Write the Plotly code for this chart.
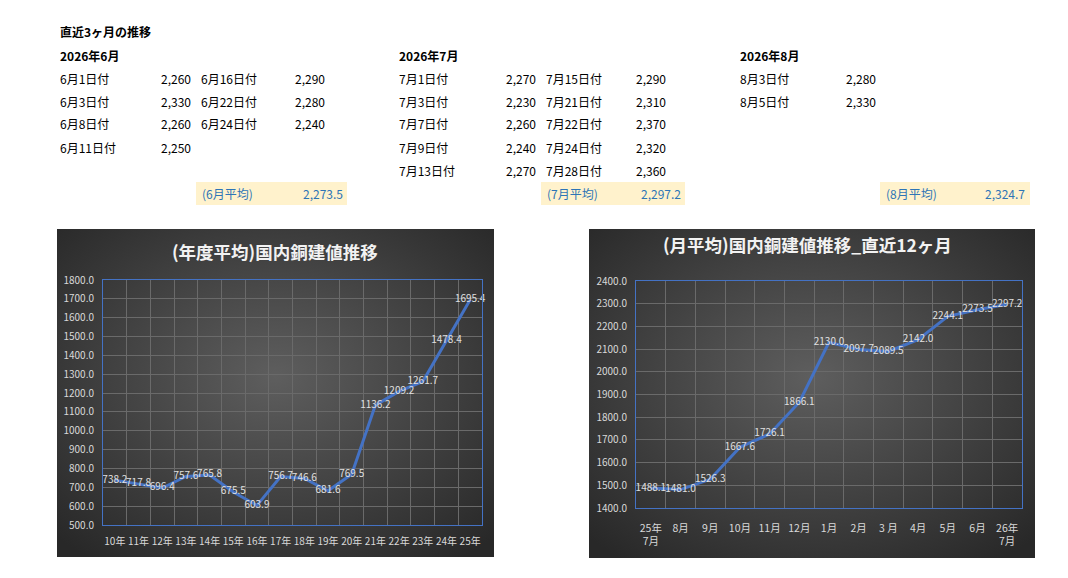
import base64
import plotly.graph_objects as go

W, H = 1068, 578
FONT = "Noto Sans CJK JP"

# ---- table data (直近3ヶ月の推移) ----
jun_dates = ["6月1日付", "6月3日付", "6月8日付", "6月11日付", "6月16日付", "6月22日付", "6月24日付"]
jun_vals = [2260, 2330, 2260, 2250, 2290, 2280, 2240]
jul_dates = ["7月1日付", "7月3日付", "7月7日付", "7月9日付", "7月13日付",
             "7月15日付", "7月21日付", "7月22日付", "7月24日付", "7月28日付"]
jul_vals = [2270, 2230, 2260, 2240, 2270, 2290, 2310, 2370, 2320, 2360]
aug_dates = ["8月3日付", "8月5日付"]
aug_vals = [2280, 2330]
month_titles = ["2026年6月", "2026年7月", "2026年8月"]
avg_labels = ["(6月平均)", "(7月平均)", "(8月平均)"]
avg_vals = [2273.5, 2297.2, 2324.7]
col_split = [4, 5, 2]

# ---- chart data ----
year_labels = ["10年", "11年", "12年", "13年", "14年", "15年", "16年", "17年",
               "18年", "19年", "20年", "21年", "22年", "23年", "24年", "25年"]
year_avg = [738.2, 717.8, 696.4, 757.6, 765.8, 675.5, 603.9, 756.7,
            746.6, 681.6, 769.5, 1136.2, 1209.2, 1261.7, 1478.4, 1695.4]
month_labels = ["25年<br>7月", "8月", "9月", "10月", "11月", "12月", "1月",
                "2月", "3 月", "4月", "5月", "6月", "26年<br>7月"]
month_avg = [1488.1, 1481.0, 1526.3, 1667.6, 1726.1, 1866.1, 2130.0,
             2097.7, 2089.5, 2142.0, 2244.1, 2273.5, 2297.2]


def px(x):
    return x / W


def py(y):
    return 1 - y / H


def note(x, y, text, anchor="left", size=12, color="#000"):
    return dict(x=px(x), y=py(y), xref="paper", yref="paper", text=text,
                xanchor=anchor, yanchor="middle", showarrow=False,
                font=dict(size=size, color=color))


fig = go.Figure()
annos = []
shapes = []

# title of the table block
annos.append(note(58, 32, "<b>直近3ヶ月の推移</b>"))

blocks = [
    (jun_dates, jun_vals, 58, 193, 199, 327, 196, 347, 345),
    (jul_dates, jul_vals, 397, 538, 544, 668, 541, 685, 683),
    (aug_dates, aug_vals, 738, 878, None, None, 880, 1030, 1027),
]
row_y = [78, 101, 124, 147, 170]
for i, (dates, vals, dx1, vx1, dx2, vx2, bx0, bx1, avx) in enumerate(blocks):
    annos.append(note(dx1, 55, "<b>" + month_titles[i] + "</b>"))
    for j, (d, v) in enumerate(zip(dates, vals)):
        if j < col_split[i]:
            r, dx, vx = j, dx1, vx1
        else:
            r, dx, vx = j - col_split[i], dx2, vx2
        annos.append(note(dx, row_y[r], d))
        annos.append(note(vx, row_y[r], f"{v:,}", anchor="right"))
    shapes.append(dict(type="rect", xref="paper", yref="paper", x0=px(bx0), x1=px(bx1),
                       y0=py(205), y1=py(182), fillcolor="#FFF2CC", line=dict(width=0),
                       layer="below"))
    annos.append(note(bx0 + 4, 193, avg_labels[i], color="#2E75B6"))
    annos.append(note(avx, 193, f"{avg_vals[i]:,.1f}", anchor="right", color="#2E75B6"))

# dark radial gradient chart backgrounds
svg = ('<svg xmlns="http://www.w3.org/2000/svg" width="440" height="330" preserveAspectRatio="none">'
       '<defs><radialGradient id="g" cx="50%" cy="45%" r="70%">'
       '<stop offset="0" stop-color="#5e5e5e"/><stop offset="1" stop-color="#282828"/>'
       '</radialGradient></defs><rect width="440" height="330" fill="url(#g)"/></svg>')
bg = "data:image/svg+xml;base64," + base64.b64encode(svg.encode()).decode()
images = []
for x0, y0, x1, y1 in [(57, 229, 494, 557), (589, 229, 1035, 558)]:
    images.append(dict(source=bg, xref="paper", yref="paper", x=px(x0), y=py(y0),
                       sizex=px(x1 - x0), sizey=(y1 - y0) / H, sizing="stretch",
                       xanchor="left", yanchor="top", layer="below"))

annos.append(note(275, 251, "<b>(年度平均)国内銅建値推移</b>", anchor="center",
                  size=17.5, color="#f2f2f2"))
annos.append(note(807, 245, "<b>(月平均)国内銅建値推移_直近12ヶ月</b>", anchor="center",
                  size=17.5, color="#f2f2f2"))

line_style = dict(color="#4472C4", width=3)
txt_style = dict(color="#e0e0e0", size=10)
fig.add_trace(go.Scatter(x=year_labels, y=year_avg, mode="lines+text",
                         text=[f"{v:.1f}" for v in year_avg], textposition="middle center",
                         line=line_style, textfont=txt_style, cliponaxis=False,
                         xaxis="x", yaxis="y", hoverinfo="x+y"))
fig.add_trace(go.Scatter(x=month_labels, y=month_avg, mode="lines+text",
                         text=[f"{v:.1f}" for v in month_avg], textposition="middle center",
                         line=line_style, textfont=txt_style, cliponaxis=False,
                         xaxis="x2", yaxis="y2", hoverinfo="x+y"))

ax_common = dict(showline=True, mirror=True, linecolor="#4472C4", linewidth=1,
                 showgrid=True, gridcolor="#6a6a6a", gridwidth=1, zeroline=False,
                 ticks="", tickfont=dict(size=10, color="#d9d9d9"), automargin=False)

fig.update_layout(
    width=W, height=H, autosize=False,
    margin=dict(l=0, r=0, t=0, b=0, pad=0),
    paper_bgcolor="white", plot_bgcolor="rgba(0,0,0,0)",
    font=dict(family=FONT),
    showlegend=False,
    annotations=annos, shapes=shapes, images=images,
    xaxis=dict(ax_common, domain=[px(103), px(482)], anchor="y", type="category",
               tickson="boundaries", range=[-0.5, 15.5], tickangle=0, ticklabelstandoff=7),
    yaxis=dict(ax_common, domain=[py(525), py(280)], anchor="x", range=[500, 1800],
               dtick=100, tickformat=".1f", ticklabelstandoff=6),
    xaxis2=dict(ax_common, domain=[px(636), px(1022)], anchor="y2", type="category",
                tickson="boundaries", range=[-0.5, 12.5], tickangle=0, ticklabelstandoff=10,
                tickfont=dict(size=10.5, color="#d9d9d9")),
    yaxis2=dict(ax_common, domain=[py(508), py(281)], anchor="x2", range=[1400, 2400],
                dtick=100, tickformat=".1f", ticklabelstandoff=6),
)

# drop the page's default body margin so the figure sits at the window origin
fig.write_html("out.html", config={"displayModeBar": False},
               post_script="document.body.style.margin='0';")
